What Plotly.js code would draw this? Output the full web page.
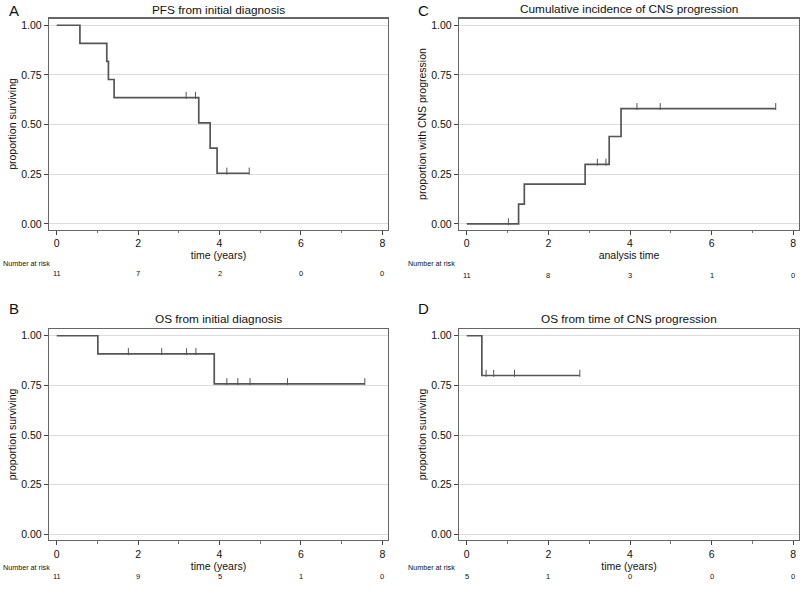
<!DOCTYPE html>
<html><head><meta charset="utf-8">
<script src="https://cdn.plot.ly/plotly-3.0.1.min.js"></script>
<style>html,body{margin:0;padding:0;background:#fff} svg text{-webkit-font-smoothing:antialiased}</style>
</head><body><div id="chart" style="width:800px;height:589px"></div>
<script>
// ---- data ----
const riskTimes = [0, 2, 4, 6, 8];

const pfsTimes = [0, 0.57, 1.23, 1.27, 1.41, 3.49, 3.77, 3.94, 4.73];
const pfsSurv  = [1.00, 0.909, 0.818, 0.727, 0.636, 0.509, 0.382, 0.255, 0.255];
const pfsCensor = [3.18, 3.41, 4.18, 4.73];
const pfsRisk = [11, 7, 2, 0, 0];

const osTimes = [0, 1.01, 3.87, 7.57];
const osSurv  = [1.00, 0.909, 0.758, 0.758];
const osCensor = [1.76, 2.58, 3.19, 3.42, 4.18, 4.45, 4.75, 5.67, 7.57];
const osRisk = [11, 9, 5, 1, 0];

const cnsTimes = [0, 1.27, 1.41, 2.90, 3.49, 3.78, 7.57];
const cnsInc   = [0.00, 0.10, 0.20, 0.30, 0.44, 0.58, 0.58];
const cnsCensor = [1.02, 3.20, 3.41, 4.17, 4.74, 7.57];
const cnsRisk = [11, 8, 3, 1, 0];

const osCnsTimes = [0, 0.37, 2.77];
const osCnsSurv  = [1.00, 0.80, 0.80];
const osCnsCensor = [0.475, 0.66, 1.17, 2.77];
const osCnsRisk = [5, 1, 0, 0, 0];

// ---- helpers ----
const FONT = 'Liberation Sans, Arial, Helvetica, sans-serif';
const LINE = '#555555';
function stepAt(times, vals, t) {
  let v = vals[0];
  for (let i = 0; i < times.length; i++) if (times[i] <= t) v = vals[i];
  return v;
}
function curve(times, vals, censor, xa, ya) {
  const step = {x: times, y: vals, xaxis: xa, yaxis: ya, type: 'scatter', mode: 'lines',
    line: {shape: 'hv', color: LINE, width: 1.7}, hoverinfo: 'skip', showlegend: false};
  const cens = {x: censor, y: censor.map(t => stepAt(times, vals, t) + 0.011), xaxis: xa, yaxis: ya,
    type: 'scatter', mode: 'markers', hoverinfo: 'skip', showlegend: false,
    marker: {symbol: 'line-ns', size: 5, line: {color: LINE, width: 1}}};
  return [step, cens];
}

const data = [
  ...curve(pfsTimes, pfsSurv, pfsCensor, 'x', 'y'),
  ...curve(cnsTimes, cnsInc, cnsCensor, 'x2', 'y2'),
  ...curve(osTimes, osSurv, osCensor, 'x3', 'y3'),
  ...curve(osCnsTimes, osCnsSurv, osCnsCensor, 'x4', 'y4')
];

function xAxis(domain, anchor, title) {
  return {domain: domain, anchor: anchor, range: [-0.19, 8.14], tickvals: riskTimes,
    ticks: 'outside', ticklen: 4, tickcolor: '#444', tickwidth: 1,
    minor: {tickvals: [1, 3, 5, 7], ticks: 'outside', ticklen: 2.5, tickcolor: '#777', showgrid: false},
    showgrid: false, zeroline: false, showline: true, linecolor: '#666', linewidth: 1.2, mirror: true,
    tickfont: {family: FONT, size: 10.5, color: '#111'},
    title: {text: title, font: {family: FONT, size: 10.5, color: '#111'}, standoff: 1},
    fixedrange: true};
}
function yAxis(domain, anchor, title) {
  return {domain: domain, anchor: anchor, range: [-0.028, 1.034], tickvals: [0, 0.25, 0.5, 0.75, 1],
    ticktext: ['0.00', '0.25', '0.50', '0.75', '1.00'],
    ticks: 'outside', ticklen: 4, tickcolor: '#444', tickwidth: 1,
    showgrid: true, gridcolor: '#dcdcdc', gridwidth: 1, zeroline: false,
    showline: true, linecolor: '#666', linewidth: 1.2, mirror: true,
    tickfont: {family: FONT, size: 10.5, color: '#111'},
    title: {text: title, font: {family: FONT, size: 10.5, color: '#111'}, standoff: 2},
    fixedrange: true};
}

const dxL = [49/800, 388/800], dxR = [459/800, 799/800];
const dyT = [1 - 229.5/589, 1 - 18.5/589], dyB = [1 - 540/589, 1 - 329/589];

const annotations = [];
function txt(text, x, y, size, xanchor, xref) {
  annotations.push({text: text, x: x, y: 1 - y/589, xref: xref || 'paper', yref: 'paper',
    xanchor: xanchor || 'center', yanchor: 'middle', showarrow: false,
    font: {family: FONT, size: size, color: '#111'}});
}
// panel letters
txt('A', 7/800, 11, 15, 'left');
txt('C', 416/800, 11, 15, 'left');
txt('B', 7/800, 308, 15, 'left');
txt('D', 416/800, 308, 15, 'left');
// panel titles
txt('PFS from initial diagnosis', (49+388)/1600, 10, 11.8);
txt('Cumulative incidence of CNS progression', (459+799)/1600, 9, 11.8);
txt('OS from initial diagnosis', (49+388)/1600, 319, 11.8);
txt('OS from time of CNS progression', (459+799)/1600, 319, 11.8);
// number at risk
function risk(vals, xref, yLabel, yNum, xLabelPx) {
  txt('Number at risk', xLabelPx/800, yLabel, 7.2, 'left');
  vals.forEach((v, i) => txt(String(v), riskTimes[i], yNum, 7.5, 'center', xref));
}
risk(pfsRisk, 'x', 263, 274, 1);
risk(cnsRisk, 'x2', 263, 275, 406);
risk(osRisk, 'x3', 567, 576, 1);
risk(osCnsRisk, 'x4', 567, 576, 406);

const layout = {
  width: 800, height: 589, margin: {l: 0, r: 0, t: 0, b: 0},
  paper_bgcolor: '#ffffff', plot_bgcolor: '#ffffff', showlegend: false,
  xaxis: xAxis(dxL, 'y', 'time (years)'),
  yaxis: yAxis(dyT, 'x', 'proportion surviving'),
  xaxis2: xAxis(dxR, 'y2', 'analysis time'),
  yaxis2: yAxis(dyT, 'x2', 'proportion with CNS progression'),
  xaxis3: xAxis(dxL, 'y3', 'time (years)'),
  yaxis3: yAxis(dyB, 'x3', 'proportion surviving'),
  xaxis4: xAxis(dxR, 'y4', 'time (years)'),
  yaxis4: yAxis(dyB, 'x4', 'proportion surviving'),
  annotations: annotations
};
Plotly.newPlot('chart', data, layout, {displayModeBar: false, staticPlot: true});
</script></body></html>
